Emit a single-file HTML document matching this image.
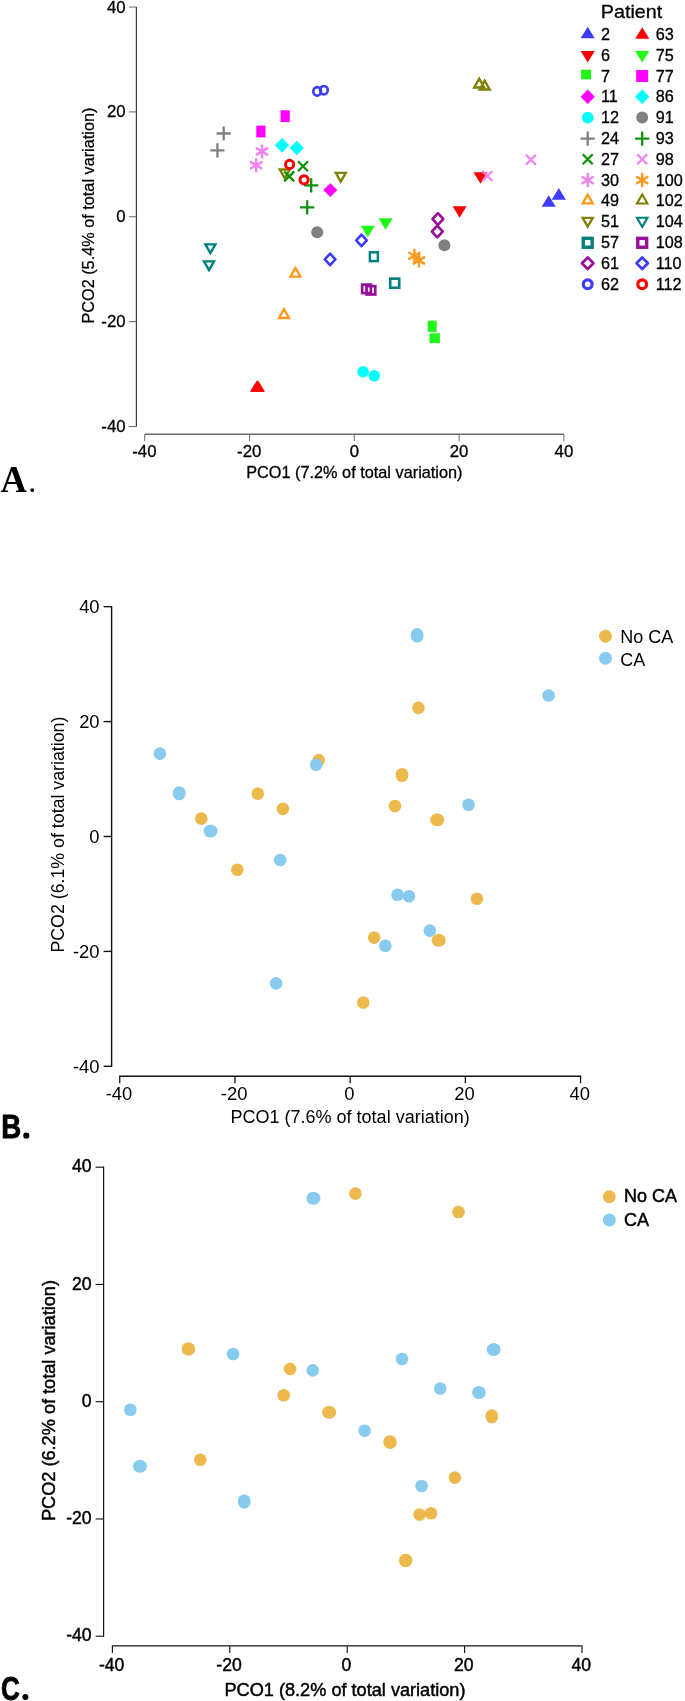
<!DOCTYPE html>
<html><head><meta charset="utf-8"><title>PCO plots</title>
<style>html,body{margin:0;padding:0;background:#fff}svg{display:block;will-change:transform}text{font-family:"Liberation Sans",sans-serif;fill:#000}</style></head><body>
<svg width="685" height="1701" viewBox="0 0 685 1701">
<rect width="685" height="1701" fill="#fff"/>
<g id="panelA">
<path d="M136.4,7.04V426.5" stroke="#3a3a3a" stroke-width="1.2" fill="none"/>
<path d="M128.9,7.04H136.4" stroke="#555" stroke-width="0.9" fill="none"/>
<text x="125.6" y="12.74" font-size="16.8" text-anchor="end" stroke="#000" stroke-width="0.3">40</text>
<path d="M128.9,111.9H136.4" stroke="#555" stroke-width="0.9" fill="none"/>
<text x="125.6" y="117.3" font-size="16.8" text-anchor="end" stroke="#000" stroke-width="0.3">20</text>
<path d="M128.9,216.77H136.4" stroke="#555" stroke-width="0.9" fill="none"/>
<text x="125.6" y="222.07" font-size="16.8" text-anchor="end" stroke="#000" stroke-width="0.3">0</text>
<path d="M128.9,321.64H136.4" stroke="#555" stroke-width="0.9" fill="none"/>
<text x="125.6" y="326.84" font-size="16.8" text-anchor="end" stroke="#000" stroke-width="0.3">-20</text>
<path d="M128.9,426.5H136.4" stroke="#555" stroke-width="0.9" fill="none"/>
<text x="125.6" y="431.5" font-size="16.8" text-anchor="end" stroke="#000" stroke-width="0.3">-40</text>
<path d="M144.7,434.3H563.9" stroke="#6a6a6a" stroke-width="1.4" fill="none"/>
<path d="M144.7,434.3V441.3" stroke="#777" stroke-width="1.1" fill="none"/>
<text x="144.4" y="457.4" font-size="16.8" text-anchor="middle" stroke="#000" stroke-width="0.3">-40</text>
<path d="M249.5,434.3V441.3" stroke="#777" stroke-width="1.1" fill="none"/>
<text x="249.2" y="457.4" font-size="16.8" text-anchor="middle" stroke="#000" stroke-width="0.3">-20</text>
<path d="M354.3,434.3V441.3" stroke="#777" stroke-width="1.1" fill="none"/>
<text x="354.3" y="457.4" font-size="16.8" text-anchor="middle" stroke="#000" stroke-width="0.3">0</text>
<path d="M459.1,434.3V441.3" stroke="#777" stroke-width="1.1" fill="none"/>
<text x="459.1" y="457.4" font-size="16.8" text-anchor="middle" stroke="#000" stroke-width="0.3">20</text>
<path d="M563.9,434.3V441.3" stroke="#777" stroke-width="1.1" fill="none"/>
<text x="563.9" y="457.4" font-size="16.8" text-anchor="middle" stroke="#000" stroke-width="0.3">40</text>
<text x="246.2" y="478.2" font-size="16.6" textLength="216.3" lengthAdjust="spacingAndGlyphs" stroke="#000" stroke-width="0.3">PCO1 (7.2% of total variation)</text>
<text transform="translate(94.1,323.6) rotate(-90)" font-size="16.6" textLength="216" lengthAdjust="spacingAndGlyphs" stroke="#000" stroke-width="0.25">PCO2 (5.4% of total variation)</text>
<text transform="translate(0.4,492) scale(0.95,1)" font-size="38.5" font-weight="700" style="font-family:'Liberation Serif',serif">A</text>
<text x="28.3" y="492" font-size="32" style="font-family:'Liberation Serif',serif">.</text>
<polygon points="541.65,206.8 555.75,206.8 548.7,195.2" fill="#3C3CFF"/>
<polygon points="551.75,199.7 565.85,199.7 558.8,188.1" fill="#3C3CFF"/>
<polygon points="473.45,172.2 487.55,172.2 480.5,183.8" fill="#FF0000"/>
<polygon points="452.55,206.2 466.65,206.2 459.6,217.8" fill="#FF0000"/>
<rect x="427.7" y="320.7" width="9" height="11.2" fill="#20F818"/>
<rect x="429.5" y="333.3" width="10.4" height="9.8" fill="#20F818"/>
<polygon points="323.3,190.1 330.3,183.3 337.3,190.1 330.3,196.9" fill="#FF00FF"/>
<circle cx="363.1" cy="371.7" r="5.8" fill="#00FFFF"/>
<circle cx="374.3" cy="375.8" r="5.8" fill="#00FFFF"/>
<path d="M216.6,133.5H230.8M223.7,126.4V140.6" stroke="#808080" stroke-width="2.3" fill="none"/>
<path d="M210.3,150.3H224.5M217.4,143.2V157.4" stroke="#808080" stroke-width="2.3" fill="none"/>
<polygon points="279.82,169.55 289.78,169.55 284.8,178.24" fill="none" stroke="#808000" stroke-width="2.4"/>
<polygon points="335.82,172.85 345.78,172.85 340.8,181.54" fill="none" stroke="#808000" stroke-width="2.4"/>
<path d="M298,161.3L308,171.3M298,171.3L308,161.3" stroke="#0E920E" stroke-width="2.3" fill="none"/>
<path d="M284.2,171.4L294.2,181.4M284.2,181.4L294.2,171.4" stroke="#0E920E" stroke-width="2.3" fill="none"/>
<path d="M262,144.5V158.5M255.9,147.9L268.1,155.1M255.9,155.1L268.1,147.9" stroke="#EE82EE" stroke-width="2.4" fill="none"/>
<path d="M256.2,158.2V172.2M250.1,161.6L262.3,168.8M250.1,168.8L262.3,161.6" stroke="#EE82EE" stroke-width="2.4" fill="none"/>
<polygon points="290.42,276.65 300.38,276.65 295.4,267.96" fill="none" stroke="#FF9A1C" stroke-width="2.4"/>
<polygon points="279.02,317.95 288.98,317.95 284,309.26" fill="none" stroke="#FF9A1C" stroke-width="2.4"/>
<rect x="369.9" y="252.3" width="8" height="8.8" fill="none" stroke="#007F7F" stroke-width="2.5"/>
<rect x="390.2" y="278.65" width="9" height="9.1" fill="none" stroke="#007F7F" stroke-width="2.6"/>
<polygon points="432.5,219 437.9,213.2 443.3,219 437.9,224.8" fill="none" stroke="#96109C" stroke-width="2.6" stroke-linejoin="round"/>
<polygon points="431.9,231.5 437.3,225.7 442.7,231.5 437.3,237.3" fill="none" stroke="#96109C" stroke-width="2.6" stroke-linejoin="round"/>
<ellipse cx="317.2" cy="91.4" rx="3.85" ry="4.2" fill="none" stroke="#3C3CFF" stroke-width="2.7"/>
<ellipse cx="323.9" cy="90.2" rx="3.85" ry="4.2" fill="none" stroke="#3C3CFF" stroke-width="2.7"/>
<polygon points="249.95,391.8 264.05,391.8 257,380.2" fill="#FF0000"/>
<polygon points="250.95,391.8 265.05,391.8 258,380.2" fill="#FF0000"/>
<polygon points="360.75,225.7 374.85,225.7 367.8,237.3" fill="#20F818"/>
<polygon points="378.55,218.3 392.65,218.3 385.6,229.9" fill="#20F818"/>
<rect x="280.6" y="110.3" width="9.2" height="11.8" fill="#FF00FF"/>
<rect x="256.3" y="125.6" width="9.2" height="11.8" fill="#FF00FF"/>
<polygon points="274.95,145.3 282.1,138.05 289.25,145.3 282.1,152.55" fill="#00FFFF"/>
<polygon points="289.65,148 296.8,140.75 303.95,148 296.8,155.25" fill="#00FFFF"/>
<circle cx="317.2" cy="232.2" r="6" fill="#808080"/>
<circle cx="444.4" cy="245.2" r="6" fill="#808080"/>
<path d="M304.1,185.3H318.3M311.2,178.2V192.4" stroke="#0E920E" stroke-width="2.3" fill="none"/>
<path d="M300.1,207.4H314.3M307.2,200.3V214.5" stroke="#0E920E" stroke-width="2.3" fill="none"/>
<path d="M525.9,154.8L535.9,164.8M525.9,164.8L535.9,154.8" stroke="#EE82EE" stroke-width="2.3" fill="none"/>
<path d="M482.4,171L492.4,181M482.4,181L492.4,171" stroke="#EE82EE" stroke-width="2.3" fill="none"/>
<path d="M414.4,248.8V262.8M408.3,252.2L420.5,259.4M408.3,259.4L420.5,252.2" stroke="#FF9A1C" stroke-width="2.4" fill="none"/>
<path d="M418.9,253.5V267.5M412.8,256.9L425,264.1M412.8,264.1L425,256.9" stroke="#FF9A1C" stroke-width="2.4" fill="none"/>
<polygon points="474.22,87.45 484.18,87.45 479.2,78.76" fill="none" stroke="#808000" stroke-width="2.4"/>
<polygon points="479.72,89.45 489.68,89.45 484.7,80.76" fill="none" stroke="#808000" stroke-width="2.4"/>
<polygon points="205.42,244.35 215.38,244.35 210.4,253.04" fill="none" stroke="#007F7F" stroke-width="2.4"/>
<polygon points="204.02,261.35 213.98,261.35 209,270.04" fill="none" stroke="#007F7F" stroke-width="2.4"/>
<rect x="362.15" y="284.6" width="8.7" height="8.4" fill="none" stroke="#96109C" stroke-width="2.7"/>
<rect x="366.55" y="286.1" width="8.7" height="8.4" fill="none" stroke="#96109C" stroke-width="2.7"/>
<polygon points="324.8,259.4 330.1,253.6 335.4,259.4 330.1,265.2" fill="none" stroke="#3C3CFF" stroke-width="2.6" stroke-linejoin="round"/>
<polygon points="356.2,240.4 361.5,234.6 366.8,240.4 361.5,246.2" fill="none" stroke="#3C3CFF" stroke-width="2.6" stroke-linejoin="round"/>
<ellipse cx="289.6" cy="164.4" rx="4.1" ry="4.1" fill="none" stroke="#FF0000" stroke-width="3.0"/>
<ellipse cx="304.1" cy="179.8" rx="4.1" ry="4.1" fill="none" stroke="#FF0000" stroke-width="3.0"/>
<text x="600.8" y="17.7" font-size="18.4" textLength="61.5" lengthAdjust="spacingAndGlyphs" stroke="#000" stroke-width="0.3">Patient</text>
<polygon points="580.65,38.25 594.75,38.25 587.7,26.65" fill="#3C3CFF"/>
<text x="601" y="39.7" font-size="16.2" stroke="#000" stroke-width="0.3">2</text>
<polygon points="580.65,51 594.75,51 587.7,62.6" fill="#FF0000"/>
<text x="601" y="61.1" font-size="16.2" stroke="#000" stroke-width="0.3">6</text>
<rect x="581.1" y="69.7" width="10" height="9.6" fill="#20F818"/>
<text x="601" y="81.9" font-size="16.2" stroke="#000" stroke-width="0.3">7</text>
<polygon points="580.55,96.65 587.7,89.4 594.85,96.65 587.7,103.9" fill="#FF00FF"/>
<text x="601" y="102.2" font-size="16.2" stroke="#000" stroke-width="0.3">11</text>
<circle cx="587.7" cy="117.55" r="5.9" fill="#00FFFF"/>
<text x="601" y="123" font-size="16.2" stroke="#000" stroke-width="0.3">12</text>
<path d="M580.6,138.6H594.8M587.7,131.5V145.7" stroke="#808080" stroke-width="2.3" fill="none"/>
<text x="601" y="144" font-size="16.2" stroke="#000" stroke-width="0.3">24</text>
<path d="M582.7,154.25L592.7,164.25M582.7,164.25L592.7,154.25" stroke="#0E920E" stroke-width="2.3" fill="none"/>
<text x="601" y="164.8" font-size="16.2" stroke="#000" stroke-width="0.3">27</text>
<path d="M587.7,173.1V187.1M581.6,176.5L593.8,183.7M581.6,183.7L593.8,176.5" stroke="#EE82EE" stroke-width="2.4" fill="none"/>
<text x="601" y="186" font-size="16.2" stroke="#000" stroke-width="0.3">30</text>
<polygon points="582.72,203.4 592.68,203.4 587.7,194.71" fill="none" stroke="#FF9A1C" stroke-width="2.4"/>
<text x="601" y="206.1" font-size="16.2" stroke="#000" stroke-width="0.3">49</text>
<polygon points="582.72,217.9 592.68,217.9 587.7,226.59" fill="none" stroke="#808000" stroke-width="2.4"/>
<text x="601" y="226.8" font-size="16.2" stroke="#000" stroke-width="0.3">51</text>
<rect x="583.25" y="238.35" width="8.9" height="8.9" fill="none" stroke="#007F7F" stroke-width="3.4"/>
<text x="601" y="248.1" font-size="16.2" stroke="#000" stroke-width="0.3">57</text>
<polygon points="581.95,263.25 587.7,257.5 593.45,263.25 587.7,269" fill="none" stroke="#96109C" stroke-width="2.7" stroke-linejoin="round"/>
<text x="601" y="269" font-size="16.2" stroke="#000" stroke-width="0.3">61</text>
<ellipse cx="587.7" cy="284.3" rx="4.4" ry="4.4" fill="none" stroke="#3C3CFF" stroke-width="3.2"/>
<text x="601" y="289.8" font-size="16.2" stroke="#000" stroke-width="0.3">62</text>
<polygon points="635.15,38.75 649.25,38.75 642.2,27.15" fill="#FF0000"/>
<text x="655.7" y="39.7" font-size="16.2" stroke="#000" stroke-width="0.3">63</text>
<polygon points="635.15,51 649.25,51 642.2,62.6" fill="#20F818"/>
<text x="655.7" y="61.1" font-size="16.2" stroke="#000" stroke-width="0.3">75</text>
<rect x="636.2" y="70" width="12" height="12" fill="#FF00FF"/>
<text x="655.7" y="81.9" font-size="16.2" stroke="#000" stroke-width="0.3">77</text>
<polygon points="635.05,96.65 642.2,89.4 649.35,96.65 642.2,103.9" fill="#00FFFF"/>
<text x="655.7" y="102.2" font-size="16.2" stroke="#000" stroke-width="0.3">86</text>
<circle cx="642.2" cy="117.55" r="5.95" fill="#808080"/>
<text x="655.7" y="123" font-size="16.2" stroke="#000" stroke-width="0.3">91</text>
<path d="M635.1,138.6H649.3M642.2,131.5V145.7" stroke="#0E920E" stroke-width="2.3" fill="none"/>
<text x="655.7" y="144" font-size="16.2" stroke="#000" stroke-width="0.3">93</text>
<path d="M637.2,154.25L647.2,164.25M637.2,164.25L647.2,154.25" stroke="#EE82EE" stroke-width="2.3" fill="none"/>
<text x="655.7" y="164.8" font-size="16.2" stroke="#000" stroke-width="0.3">98</text>
<path d="M642.2,173.1V187.1M636.1,176.5L648.3,183.7M636.1,183.7L648.3,176.5" stroke="#FF9A1C" stroke-width="2.4" fill="none"/>
<text x="655.7" y="186" font-size="16.2" stroke="#000" stroke-width="0.3">100</text>
<polygon points="636.96,203.55 647.44,203.55 642.2,194.41" fill="none" stroke="#808000" stroke-width="2.1"/>
<text x="655.7" y="206.1" font-size="16.2" stroke="#000" stroke-width="0.3">102</text>
<polygon points="636.96,217.75 647.44,217.75 642.2,226.89" fill="none" stroke="#007F7F" stroke-width="2.1"/>
<text x="655.7" y="226.8" font-size="16.2" stroke="#000" stroke-width="0.3">104</text>
<rect x="637.75" y="238.35" width="8.9" height="8.9" fill="none" stroke="#96109C" stroke-width="3.4"/>
<text x="655.7" y="248.1" font-size="16.2" stroke="#000" stroke-width="0.3">108</text>
<polygon points="636.45,263.25 642.2,257.5 647.95,263.25 642.2,269" fill="none" stroke="#3C3CFF" stroke-width="2.7" stroke-linejoin="round"/>
<text x="655.7" y="269" font-size="16.2" stroke="#000" stroke-width="0.3">110</text>
<ellipse cx="642.2" cy="284.3" rx="4.4" ry="4.4" fill="none" stroke="#FF0000" stroke-width="3.2"/>
<text x="655.7" y="289.8" font-size="16.2" stroke="#000" stroke-width="0.3">112</text>
</g>
<g id="panelB">
<path d="M111.6,605.96V1067.04" stroke="#111" stroke-width="1.4" fill="none"/>
<path d="M103.6,606.66H111.6" stroke="#111" stroke-width="1.4" fill="none"/>
<text x="99.6" y="613.26" font-size="18.4" text-anchor="end" >40</text>
<path d="M103.6,721.58H111.6" stroke="#111" stroke-width="1.4" fill="none"/>
<text x="99.6" y="728.18" font-size="18.4" text-anchor="end" >20</text>
<path d="M103.6,836.5H111.6" stroke="#111" stroke-width="1.4" fill="none"/>
<text x="99.6" y="843.1" font-size="18.4" text-anchor="end" >0</text>
<path d="M103.6,951.42H111.6" stroke="#111" stroke-width="1.4" fill="none"/>
<text x="99.6" y="958.02" font-size="18.4" text-anchor="end" >-20</text>
<path d="M103.6,1066.34H111.6" stroke="#111" stroke-width="1.4" fill="none"/>
<text x="99.6" y="1072.94" font-size="18.4" text-anchor="end" >-40</text>
<path d="M119.1,1076.2H581.2" stroke="#111" stroke-width="1.6" fill="none"/>
<path d="M119.75,1076.2V1083.2" stroke="#111" stroke-width="1.3" fill="none"/>
<text x="118.95" y="1100.3" font-size="18.4" text-anchor="middle" >-40</text>
<path d="M234.95,1076.2V1083.2" stroke="#111" stroke-width="1.3" fill="none"/>
<text x="234.15" y="1100.3" font-size="18.4" text-anchor="middle" >-20</text>
<path d="M350.15,1076.2V1083.2" stroke="#111" stroke-width="1.3" fill="none"/>
<text x="349.35" y="1100.3" font-size="18.4" text-anchor="middle" >0</text>
<path d="M465.35,1076.2V1083.2" stroke="#111" stroke-width="1.3" fill="none"/>
<text x="464.55" y="1100.3" font-size="18.4" text-anchor="middle" >20</text>
<path d="M580.55,1076.2V1083.2" stroke="#111" stroke-width="1.3" fill="none"/>
<text x="579.75" y="1100.3" font-size="18.4" text-anchor="middle" >40</text>
<text x="230.5" y="1123.3" font-size="18" textLength="239.2" lengthAdjust="spacingAndGlyphs" >PCO1 (7.6% of total variation)</text>
<text transform="translate(64.2,952.6) rotate(-90)" font-size="18" textLength="236" lengthAdjust="spacingAndGlyphs" >PCO2 (6.1% of total variation)</text>
<text transform="translate(1.15,1138.3) scale(0.84,1)" font-size="33" font-weight="700" stroke="#000" stroke-width="0.8">B</text>
<circle cx="26.3" cy="1135.65" r="3.05" fill="#000"/>
<circle cx="201.3" cy="818.6" r="6.3" fill="#EEB94C"/>
<circle cx="257.8" cy="793.7" r="6.3" fill="#EEB94C"/>
<circle cx="282.9" cy="808.9" r="6.3" fill="#EEB94C"/>
<circle cx="237.3" cy="869.7" r="6.3" fill="#EEB94C"/>
<circle cx="318.7" cy="760.1" r="6.3" fill="#EEB94C"/>
<circle cx="418.4" cy="707.9" r="6.3" fill="#EEB94C"/>
<circle cx="402" cy="774.3" r="6.3" fill="#EEB94C"/>
<circle cx="402" cy="775.7" r="6.3" fill="#EEB94C"/>
<circle cx="395" cy="806" r="6.3" fill="#EEB94C"/>
<circle cx="476.9" cy="898.8" r="6.3" fill="#EEB94C"/>
<circle cx="374.2" cy="937.6" r="6.3" fill="#EEB94C"/>
<circle cx="363.3" cy="1002.6" r="6.3" fill="#EEB94C"/>
<circle cx="159.9" cy="753.6" r="6.3" fill="#88CBEF"/>
<circle cx="179.2" cy="792.5" r="6.3" fill="#88CBEF"/>
<circle cx="179.2" cy="794" r="6.3" fill="#88CBEF"/>
<circle cx="209.9" cy="831" r="6.3" fill="#88CBEF"/>
<circle cx="211.2" cy="831" r="6.3" fill="#88CBEF"/>
<circle cx="280.2" cy="860" r="6.3" fill="#88CBEF"/>
<circle cx="276.1" cy="983.4" r="6.3" fill="#88CBEF"/>
<circle cx="316.1" cy="764.8" r="6.3" fill="#88CBEF"/>
<circle cx="417.1" cy="634.4" r="6.3" fill="#88CBEF"/>
<circle cx="417.1" cy="636.2" r="6.3" fill="#88CBEF"/>
<circle cx="548.6" cy="695.5" r="6.3" fill="#88CBEF"/>
<circle cx="468.5" cy="804.8" r="6.3" fill="#88CBEF"/>
<circle cx="397.5" cy="894.8" r="6.3" fill="#88CBEF"/>
<circle cx="408.9" cy="896.2" r="6.3" fill="#88CBEF"/>
<circle cx="429.8" cy="930.6" r="6.3" fill="#88CBEF"/>
<circle cx="385.3" cy="945.8" r="6.3" fill="#88CBEF"/>
<circle cx="436.5" cy="819.9" r="6.3" fill="#EEB94C"/>
<circle cx="437.9" cy="819.9" r="6.3" fill="#EEB94C"/>
<circle cx="438" cy="940.3" r="6.3" fill="#EEB94C"/>
<circle cx="439.4" cy="940.3" r="6.3" fill="#EEB94C"/>
<circle cx="605.5" cy="636.3" r="6.45" fill="#EEB94C"/>
<circle cx="605.5" cy="658.3" r="6.45" fill="#88CBEF"/>
<text x="620.2" y="642.7" font-size="18" textLength="53" lengthAdjust="spacingAndGlyphs" >No CA</text>
<text x="620.2" y="665.8" font-size="18" textLength="25" lengthAdjust="spacingAndGlyphs" >CA</text>
</g>
<g id="panelC">
<path d="M103.6,1166.62V1636.78" stroke="#151515" stroke-width="1.2" fill="none"/>
<path d="M95.6,1167.2H103.6" stroke="#151515" stroke-width="1.15" fill="none"/>
<text x="91.6" y="1172.3" font-size="17.6" text-anchor="end" stroke="#000" stroke-width="0.45">40</text>
<path d="M95.6,1284.45H103.6" stroke="#151515" stroke-width="1.15" fill="none"/>
<text x="91.6" y="1289.55" font-size="17.6" text-anchor="end" stroke="#000" stroke-width="0.45">20</text>
<path d="M95.6,1401.7H103.6" stroke="#151515" stroke-width="1.15" fill="none"/>
<text x="91.6" y="1406.8" font-size="17.6" text-anchor="end" stroke="#000" stroke-width="0.45">0</text>
<path d="M95.6,1518.95H103.6" stroke="#151515" stroke-width="1.15" fill="none"/>
<text x="91.6" y="1524.05" font-size="17.6" text-anchor="end" stroke="#000" stroke-width="0.45">-20</text>
<path d="M95.6,1636.2H103.6" stroke="#151515" stroke-width="1.15" fill="none"/>
<text x="91.6" y="1641.3" font-size="17.6" text-anchor="end" stroke="#000" stroke-width="0.45">-40</text>
<path d="M111.82,1645.9H582.58" stroke="#151515" stroke-width="1.25" fill="none"/>
<path d="M112.4,1645.9V1652.9" stroke="#151515" stroke-width="1.15" fill="none"/>
<text x="111.6" y="1670.5" font-size="17.6" text-anchor="middle" stroke="#000" stroke-width="0.45">-40</text>
<path d="M229.8,1645.9V1652.9" stroke="#151515" stroke-width="1.15" fill="none"/>
<text x="229" y="1670.5" font-size="17.6" text-anchor="middle" stroke="#000" stroke-width="0.45">-20</text>
<path d="M347.2,1645.9V1652.9" stroke="#151515" stroke-width="1.15" fill="none"/>
<text x="346.4" y="1670.5" font-size="17.6" text-anchor="middle" stroke="#000" stroke-width="0.45">0</text>
<path d="M464.6,1645.9V1652.9" stroke="#151515" stroke-width="1.15" fill="none"/>
<text x="463.8" y="1670.5" font-size="17.6" text-anchor="middle" stroke="#000" stroke-width="0.45">20</text>
<path d="M582,1645.9V1652.9" stroke="#151515" stroke-width="1.15" fill="none"/>
<text x="581.2" y="1670.5" font-size="17.6" text-anchor="middle" stroke="#000" stroke-width="0.45">40</text>
<text x="224.5" y="1695.8" font-size="18" textLength="241" lengthAdjust="spacingAndGlyphs" stroke="#000" stroke-width="0.45">PCO1 (8.2% of total variation)</text>
<text transform="translate(54.9,1521) rotate(-90)" font-size="18" textLength="241" lengthAdjust="spacingAndGlyphs" stroke="#000" stroke-width="0.45">PCO2 (6.2% of total variation)</text>
<text transform="translate(1.0,1700.0) scale(0.79,1)" font-size="33" font-weight="700" stroke="#000" stroke-width="0.8">C</text>
<circle cx="25.4" cy="1697.05" r="3.05" fill="#000"/>
<circle cx="188.4" cy="1349" r="6.8" fill="#EEB94C"/>
<circle cx="200.3" cy="1459.7" r="6.3" fill="#EEB94C"/>
<circle cx="290.1" cy="1368.9" r="6.3" fill="#EEB94C"/>
<circle cx="283.7" cy="1395.2" r="6.3" fill="#EEB94C"/>
<circle cx="328.4" cy="1412.3" r="6.3" fill="#EEB94C"/>
<circle cx="329.8" cy="1412.3" r="6.3" fill="#EEB94C"/>
<circle cx="355.4" cy="1193.6" r="6.3" fill="#EEB94C"/>
<circle cx="390" cy="1442.1" r="6.8" fill="#EEB94C"/>
<circle cx="405.7" cy="1560.5" r="6.8" fill="#EEB94C"/>
<circle cx="419.6" cy="1514.6" r="6.3" fill="#EEB94C"/>
<circle cx="431" cy="1513.3" r="6.3" fill="#EEB94C"/>
<circle cx="454.9" cy="1477.6" r="6.3" fill="#EEB94C"/>
<circle cx="458.5" cy="1212" r="6.3" fill="#EEB94C"/>
<circle cx="491.8" cy="1415.6" r="6.3" fill="#EEB94C"/>
<circle cx="491.8" cy="1417" r="6.3" fill="#EEB94C"/>
<circle cx="130.3" cy="1409.8" r="6.3" fill="#88CBEF"/>
<circle cx="139.3" cy="1466.2" r="6.3" fill="#88CBEF"/>
<circle cx="140.6" cy="1466.2" r="6.3" fill="#88CBEF"/>
<circle cx="233.1" cy="1354" r="6.3" fill="#88CBEF"/>
<circle cx="244.2" cy="1500.8" r="6.3" fill="#88CBEF"/>
<circle cx="244.2" cy="1502.2" r="6.3" fill="#88CBEF"/>
<circle cx="312.7" cy="1198.2" r="6.3" fill="#88CBEF"/>
<circle cx="314.1" cy="1198.2" r="6.3" fill="#88CBEF"/>
<circle cx="312.7" cy="1370.4" r="6.3" fill="#88CBEF"/>
<circle cx="364.6" cy="1430.7" r="6.3" fill="#88CBEF"/>
<circle cx="402" cy="1359" r="6.3" fill="#88CBEF"/>
<circle cx="421.6" cy="1486" r="6.3" fill="#88CBEF"/>
<circle cx="440.2" cy="1388.5" r="6.3" fill="#88CBEF"/>
<circle cx="478.4" cy="1392.5" r="6.3" fill="#88CBEF"/>
<circle cx="479.5" cy="1392.5" r="6.3" fill="#88CBEF"/>
<circle cx="493" cy="1349.5" r="6.3" fill="#88CBEF"/>
<circle cx="494.3" cy="1349.5" r="6.3" fill="#88CBEF"/>
<circle cx="609.3" cy="1196.8" r="6.45" fill="#EEB94C"/>
<circle cx="609.3" cy="1220" r="6.45" fill="#88CBEF"/>
<text x="624" y="1202" font-size="17.5" textLength="53" lengthAdjust="spacingAndGlyphs" stroke="#000" stroke-width="0.45">No CA</text>
<text x="624" y="1226" font-size="17.5" textLength="25" lengthAdjust="spacingAndGlyphs" stroke="#000" stroke-width="0.45">CA</text>
</g>
</svg></body></html>
